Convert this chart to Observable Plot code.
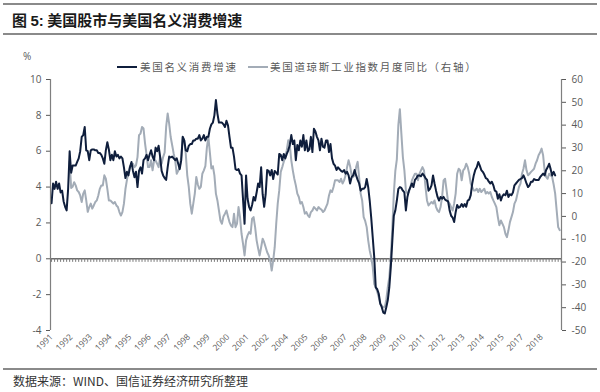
<!DOCTYPE html>
<html><head><meta charset="utf-8">
<script src="https://cdn.jsdelivr.net/npm/d3@7"></script>
<script src="https://cdn.jsdelivr.net/npm/@observablehq/plot@0.6"></script>
<style>
html,body{margin:0;padding:0;background:#fff;}
body{width:600px;height:392px;position:relative;overflow:hidden;font-family:"Noto Sans CJK SC","Noto Sans",sans-serif;}
.hr{position:absolute;left:3px;width:594px;height:0;border-top:2px solid #8a8a8a;}
#title{position:absolute;left:12px;top:11px;font-size:15px;line-height:18px;font-weight:bold;color:#1a1a1a;white-space:nowrap;}
#title .n{font-family:"Liberation Sans",Arial,sans-serif;}
#pct{position:absolute;left:23px;top:50px;font-size:10px;line-height:12px;color:#595959;font-family:"Open Sans",sans-serif;}
.sw{position:absolute;height:2px;width:20px;top:66px;}
.lg{position:absolute;top:60px;font-size:10.5px;line-height:14px;letter-spacing:1.7px;color:#595959;white-space:nowrap;}
#src{position:absolute;left:13px;top:373px;font-size:12px;line-height:16px;color:#333;white-space:nowrap;}
#chart{position:absolute;left:0;top:40px;}
</style></head>
<body>
<div class="hr" style="top:3px"></div>
<div id="title">图 <span class="n">5:</span> 美国股市与美国名义消费增速</div>
<div class="hr" style="top:33px"></div>
<div id="pct">%</div>
<div class="sw" style="left:117px;background:#0f1e3c"></div>
<div class="lg" style="left:140px">美国名义消费增速</div>
<div class="sw" style="left:248px;background:#a3acb7"></div>
<div class="lg" style="left:270px">美国道琼斯工业指数月度同比（右轴）</div>
<div id="chart"></div>
<div class="hr" style="top:368px"></div>
<div id="src">数据来源：WIND、国信证券经济研究所整理</div>
<script>
// ---- data (monthly) ----
const consumptionStart = "1991-01"; // 美国名义消费增速 (%), left axis
const consumption = [
3.1,4.2,3.9,4.3,3.9,4.2,3.7,3.8,3.2,2.9,
2.7,3.9,6.0,4.8,5.2,5.2,5.2,5.4,5.6,6.0,
6.8,6.9,7.35,6.05,6.0,5.5,6.05,6.1,6.1,6.05,
6.05,5.9,5.9,5.8,5.6,5.3,6.05,6.5,6.1,5.5,
5.8,5.5,6.0,5.7,5.8,5.6,5.7,5.6,5.1,4.5,
4.85,4.65,5.1,5.4,4.9,4.55,4.85,4.0,4.9,5.1,
4.75,5.5,5.6,5.8,5.5,5.8,6.05,5.7,5.5,6.2,
6.0,6.3,5.7,4.9,4.65,4.5,4.4,5.1,5.7,5.65,
5.7,5.6,5.5,5.6,5.3,5.0,5.5,6.8,6.6,6.05,
6.0,6.3,6.4,6.4,6.6,6.6,6.7,6.7,6.9,6.6,
6.7,6.9,6.6,6.8,6.8,7.25,7.5,7.6,8.0,8.85,
8.1,7.6,7.6,7.6,7.5,7.35,7.7,7.45,6.8,6.2,
6.2,5.7,5.0,4.95,5.0,4.75,4.65,3.3,1.95,4.65,
3.35,2.9,2.7,3.0,3.45,3.25,3.7,4.2,4.0,5.1,
3.6,2.9,3.6,4.95,4.9,4.65,4.95,4.45,4.9,4.8,
4.7,5.85,5.8,5.5,5.85,5.6,5.85,6.05,6.35,6.9,
6.4,6.6,5.5,6.35,6.05,6.6,6.25,6.9,6.05,6.6,
6.0,6.1,6.8,5.95,7.25,7.1,6.8,6.6,6.05,6.7,
6.25,6.2,6.6,6.6,5.95,6.4,5.6,5.3,5.2,4.95,
5.1,5.0,4.9,4.85,4.95,4.75,4.85,4.65,4.2,4.55,
4.65,4.95,4.65,4.4,4.2,3.8,3.9,3.9,4.0,4.45,
4.0,3.25,2.3,1.2,0.1,-1.6,-1.7,-1.95,-2.5,-2.7,
-3.0,-3.05,-2.7,-2.3,-1.6,-0.45,1.0,2.4,2.7,3.25,
3.9,4.0,3.95,3.8,3.7,2.7,3.45,3.8,4.0,4.2,
4.0,4.4,4.5,4.65,4.65,4.6,4.75,4.65,4.5,4.4,
3.8,3.9,4.1,4.65,4.2,3.8,3.45,3.25,3.45,3.35,
3.45,3.3,3.25,3.2,2.7,2.4,2.3,2.05,2.6,3.0,
2.85,2.9,3.05,2.9,3.05,2.9,3.25,3.3,3.55,4.2,
4.65,4.95,5.1,5.4,5.2,4.95,4.85,4.7,4.5,4.45,
4.3,4.2,4.3,4.1,3.8,3.75,3.35,3.6,3.25,3.5,
3.6,3.55,3.8,3.45,3.6,3.55,3.7,4.1,4.2,4.3,
4.4,4.45,4.5,4.65,4.45,4.2,4.0,4.1,4.3,4.3,
4.45,4.4,4.4,4.4,4.55,4.65,4.75,4.65,4.95,5.1,
5.3,5.0,4.65,4.85,4.65
];
const dowStart = "1992-01"; // 美国道琼斯工业指数月度同比 (%), right axis
const dow = [
24,12.5,13,15,13.6,11.4,10.7,9.2,6.3,10,
11.4,7,2,4.1,5.6,3.4,4.8,6.3,7,9.2,
12.1,13.6,13.6,18,16.5,12.1,7,7,6.3,5.6,
6.3,4.8,4.1,1.9,0.4,1.9,5.6,12,16,19.5,
22,22.4,23.1,21.6,22.4,26,35.6,36.3,39.2,38.5,
32,27,21.6,21.6,24.6,20.2,24.6,24.5,23.1,21.6,
26,23.1,26,28,39.2,45.1,40.7,34.8,31.2,27.5,
24.6,18.7,20,21.6,26,34.8,33.4,27.5,18,12.9,
5.6,1.2,5.6,10,17.3,14,12.1,12.9,18.7,20.2,
22,30,34.8,28,21,22,18,10,7,2.6,
-1.8,-3.2,0,1.2,2.6,0,-2.5,-4,-4.7,1.2,
-4.7,-3.2,4.1,-0.3,-7.6,-12,-17.1,-10.5,-8.3,-6.9,
-7.6,-1.0,-0.3,-4.7,-10.5,-14,-17.1,-13.5,-9.8,-11.3,
-13.5,-15.7,-17.1,-19.3,-23.7,-19.3,-13.5,-3.2,5.6,11.4,
19.5,21.6,24,26,29,33.4,31.2,24.6,20.2,16.5,
13.6,10,8.5,5.6,6.3,4.1,1.2,1.9,0.5,-0.3,
1.9,2.6,4.1,3.4,2.6,4.1,3.4,3.0,1.9,2.6,
4.1,5.6,9.2,11.4,10.7,12.9,15.8,15.8,15.8,15.1,
16.5,14.4,15.8,18,21.6,24.6,22,18,17.3,18,
21.6,23.9,17,10,7,-0.3,-2,-4.7,-10.5,-14.9,
-17.8,-22.2,-29.6,-31,-33,-35.4,-38.3,-39.1,-39.8,-39.8,
-36.5,-31,-26.6,-17.8,-5,10,20,25,40,47,
36.3,26,20.2,11.4,10,10.7,12.9,15.8,17.3,18.7,
18.7,15.8,18.7,20.2,21.6,20.2,12.9,7,4.8,5.6,
6.3,5.6,7,4.1,2.6,1.9,4.1,8.5,15.8,16.5,
11.4,6.3,5.6,4.1,2.6,5.6,10,18.7,20.9,20.2,
15.8,20.2,21,23.1,21.6,18.7,14.4,12.9,11.4,11.4,
12.1,10.7,12.1,10.7,11.4,12.1,10,10.7,10,10.7,
8.5,7,5.6,4.1,-0.3,-3.9,-1.8,-3.2,-4.7,-7.6,
-9.1,-6.1,-2.5,-0.3,1.9,5.6,7,10,12.9,14.4,
18.7,21,24.6,20.2,18,18.7,19.5,20.2,20.9,23.1,
24.6,26.8,28,29.7,26.8,20.2,17.3,16.5,18.7,18,
17.3,14,10,2.6,-4.7,-6
];
// category-axis labels (Excel shows one label every 13 months)
const yearLabels = ["1991","1992","1993","1994","1995","1996","1997","1998","1999","2000","2001","2002","2004","2005","2006","2007","2008","2009","2010","2011","2012","2013","2014","2015","2017","2018"];
const labelEvery = 13;
const leftTicks = [-4,-2,0,2,4,6,8,10];
const rightTicks = [-50,-40,-30,-20,-10,0,10,20,30,40,50,60];

// ---- build ----
const origin = 1991*12;
const mIdx = s => { const [y,m] = s.split("-").map(Number); return y*12 + (m-1) - origin; };
const c0 = mIdx(consumptionStart), d0 = mIdx(dowStart);
const consData = consumption.map((v,i)=>({t:c0+i, v}));
const dowData = dow.map((v,i)=>({t:d0+i, v}));
const toLeft = r => (r + 50) * 14 / 110 - 4;      // right-axis value -> left-axis units
const toRight = l => Math.round((l + 4) * 110 / 14 - 50);
const xDom = [-0.7, 338.2];
const nCat = Math.floor(xDom[1]);

const chart = Plot.plot({
  width: 600, height: 320,
  marginLeft: 50, marginRight: 39, marginTop: 39, marginBottom: 30,
  x: {type: "linear", domain: xDom},
  y: {domain: [-4, 10]},
  style: {fontFamily: "'Open Sans', sans-serif", fontSize: "10px", color: "#595959", background: "transparent"},
  marks: [
    Plot.ruleY([0], {stroke: "#6b6b6b", strokeWidth: 1.5}),
    Plot.ruleX(d3.range(0, nCat + 1, 2), {x: d => d, y1: 0, y2: -0.2, stroke: "#7a7a7a", strokeWidth: 1}),
    Plot.line(dowData, {x: "t", y: d => toLeft(d.v), stroke: "#a3acb7", strokeWidth: 2}),
    Plot.line(consData, {x: "t", y: "v", stroke: "#0f1e3c", strokeWidth: 2}),
    Plot.ruleX(xDom, {stroke: "#7f7f7f", strokeWidth: 1.2}),
    Plot.axisY({anchor: "left", ticks: leftTicks, tickFormat: d => String(d), tickSize: 4, tickPadding: 5, label: null}),
    Plot.axisY({anchor: "right", ticks: rightTicks.map(toLeft), tickFormat: d => String(toRight(d)), tickSize: 4, tickPadding: 6, label: null}),
    Plot.axisX({anchor: "bottom", ticks: yearLabels.map((_, i) => i * labelEvery), tickFormat: d => yearLabels[Math.round(d / labelEvery)], tickRotate: -45, tickSize: 0, tickPadding: 5, fontSize: 8.5, label: null})
  ]
});
document.getElementById("chart").appendChild(chart);
</script>
</body></html>
